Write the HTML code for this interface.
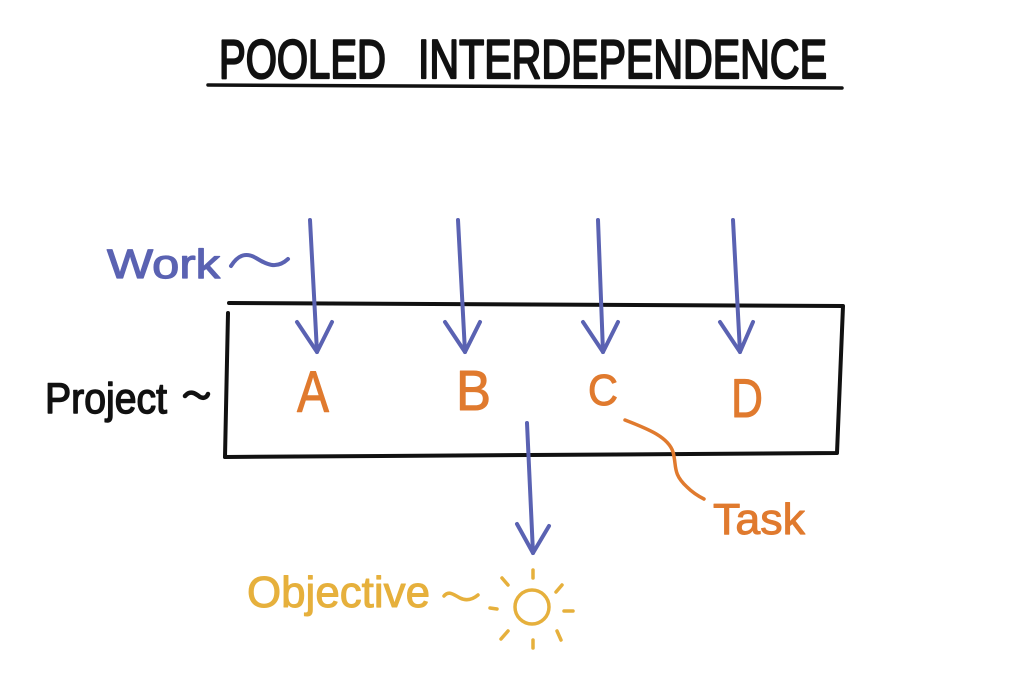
<!DOCTYPE html>
<html>
<head>
<meta charset="utf-8">
<style>
  html, body { margin: 0; padding: 0; background: #ffffff; }
  body { width: 1024px; height: 694px; overflow: hidden; }
  svg { display: block; }
  text { font-family: "Liberation Sans", "DejaVu Sans", sans-serif; }
</style>
</head>
<body>
<svg width="1024" height="694" viewBox="0 0 1024 694" xmlns="http://www.w3.org/2000/svg">
  <rect x="0" y="0" width="1024" height="694" fill="#ffffff"/>

  <!-- Title -->
  <g fill="#111" stroke="#111" stroke-width="2.2" stroke-linejoin="round">
    <text x="219" y="78" font-size="55" textLength="167" lengthAdjust="spacingAndGlyphs">POOLED</text>
    <text x="418" y="78" font-size="55" textLength="409" lengthAdjust="spacingAndGlyphs">INTERDEPENDENCE</text>
  </g>
  <path d="M208,85 L842,88" stroke="#111" stroke-width="3.5" stroke-linecap="round" fill="none"/>

  <!-- Project box -->
  <g stroke="#111" stroke-width="4" stroke-linecap="round" stroke-linejoin="round" fill="none">
    <path d="M229,303 L843,306 L837,453 L225,457"/>
    <path d="M228,313 L225,457"/>
  </g>

  <!-- Work arrows -->
  <g stroke="#5A62B2" stroke-width="4" stroke-linecap="round" stroke-linejoin="round" fill="none">
    <path d="M310,220 L317,352"/>
    <path d="M297,322 L317,352 L332,322"/>
    <path d="M458,220 L465,352"/>
    <path d="M445,322 L465,352 L480,322"/>
    <path d="M598,220 L603,352"/>
    <path d="M583,322 L603,352 L618,322"/>
    <path d="M733,220 L740,352"/>
    <path d="M720,322 L740,352 L753,322"/>
    <!-- objective arrow -->
    <path d="M527,423 L533,553"/>
    <path d="M517,524 L533,553 L549,526"/>
    <!-- work tilde -->
    <path d="M231,266 C238,255 246,252 256,258 C266,264 276,270 288,259"/>
  </g>

  <!-- Work label -->
  <text x="107" y="278" font-size="41" textLength="113" lengthAdjust="spacingAndGlyphs" fill="#5A62B2" stroke="#5A62B2" stroke-width="1.2" stroke-linejoin="round">Work</text>

  <!-- Project label -->
  <text x="45" y="413" font-size="43" textLength="122" lengthAdjust="spacingAndGlyphs" fill="#111" stroke="#111" stroke-width="1.4" stroke-linejoin="round">Project</text>
  <path d="M185,396 C190,390 195,393 200,397 C204,399 207,397 208,394" stroke="#111" stroke-width="4.5" stroke-linecap="round" fill="none"/>

  <!-- Task letters -->
  <g fill="#E07A2E" stroke="#E07A2E" stroke-width="1" stroke-linejoin="round">
    <text x="297" y="412" font-size="58" textLength="32" lengthAdjust="spacingAndGlyphs">A</text>
    <text x="456" y="410" font-size="57" textLength="35" lengthAdjust="spacingAndGlyphs">B</text>
    <text x="588" y="405" font-size="44" textLength="30" lengthAdjust="spacingAndGlyphs">C</text>
    <text x="731" y="417" font-size="55" textLength="32" lengthAdjust="spacingAndGlyphs">D</text>
    <text x="713" y="534" font-size="44" textLength="92" lengthAdjust="spacingAndGlyphs">Task</text>
  </g>
  <path d="M625,420 C645,428 668,436 673,452 C677,466 672,473 687,487 C693,493 698,496 704,499" stroke="#E07A2E" stroke-width="3.5" stroke-linecap="round" fill="none"/>

  <!-- Objective -->
  <text x="247" y="607" font-size="44" textLength="183" lengthAdjust="spacingAndGlyphs" fill="#E6B03C" stroke="#E6B03C" stroke-width="1" stroke-linejoin="round">Objective</text>
  <g stroke="#E6B03C" stroke-width="3.5" stroke-linecap="round" fill="none">
    <path d="M444,596 C449,590 454,595 460,598 C466,601 472,600 478,595"/>
    <circle cx="532" cy="607" r="17"/>
    <path d="M533,570 L533,578"/>
    <path d="M562,585 L556,592"/>
    <path d="M564,611 L573,611"/>
    <path d="M557,631 L561,640"/>
    <path d="M533,640 L533,648"/>
    <path d="M508,631 L501,639"/>
    <path d="M490,608 L497,609"/>
    <path d="M502,578 L508,585"/>
  </g>
</svg>
</body>
</html>
